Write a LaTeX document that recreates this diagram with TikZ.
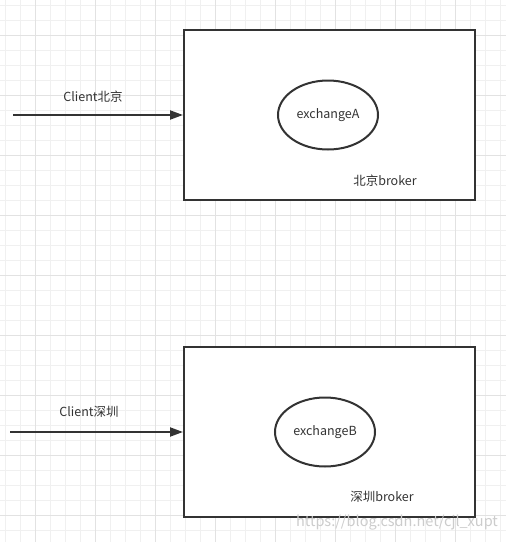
\documentclass[tikz,border=0pt]{standalone}
\usepackage{fontspec}
\setmainfont{Noto Sans CJK SC}
\usetikzlibrary{arrows.meta,shapes.geometric}
\definecolor{ink}{HTML}{333333}
\definecolor{gminor}{HTML}{F0F0F0}
\definecolor{gmajor}{HTML}{E2E2E2}
\tikzset{
  box/.style={draw=ink, line width=2pt, fill=white},
  exch/.style={draw=ink, line width=2pt, ellipse, fill=white, minimum width=100pt, minimum height=69pt, inner sep=0pt, font=\fontsize{12.5}{14}\selectfont, text=ink},
  lbl/.style={font=\fontsize{12.5}{14}\selectfont, text=ink, inner sep=0pt},
  conn/.style={draw=ink, line width=2pt, -{Triangle[length=13pt,width=9pt]}},
  wm/.style={font=\fontsize{14.5}{16}\selectfont, text=black!20, inner sep=0pt}
}
\begin{document}
\begin{tikzpicture}[x=1pt,y=-1pt]
\useasboundingbox (0,0) rectangle (506,542);
\fill[white] (0,0) rectangle (506,542);
% grid
\foreach \i in {0,...,33} {
  \draw[gminor, line width=1pt] ({5+15*\i},0) -- ({5+15*\i},542);
}
\foreach \j in {0,...,35} {
  \draw[gminor, line width=1pt] (0,{5+15*\j}) -- (506,{5+15*\j});
}
\foreach \i in {0,...,8} {
  \draw[gmajor, line width=1pt] ({35+60*\i},0) -- ({35+60*\i},542);
  \draw[gmajor, line width=1pt] (0,{35+60*\i}) -- (506,{35+60*\i});
}
% broker A
\node[box, minimum width=291pt, minimum height=170pt, anchor=north west, inner sep=0pt] (boxA) at (183,29) {};
\node[exch] (exA) at (328,115) {exchangeA};
\node[lbl] (brA) at (385,181) {北京broker};
\coordinate (srcA) at (13,115);
\draw[conn] (srcA) -- (boxA.west |- srcA);
\node[lbl] (clA) at (93,97) {Client北京};
% broker B
\node[box, minimum width=291pt, minimum height=170pt, anchor=north west, inner sep=0pt] (boxB) at (183,346) {};
\node[exch] (exB) at (325,432) {exchangeB};
\node[lbl] (brB) at (382,497) {深圳broker};
\coordinate (srcB) at (10,432);
\draw[conn] (srcB) -- (boxB.west |- srcB);
\node[lbl] (clB) at (89,412) {Client深圳};
% watermark
\node[wm] (wmk) at (397,523) {https://blog.csdn.net/cjl\_xupt};
\end{tikzpicture}
\end{document}
